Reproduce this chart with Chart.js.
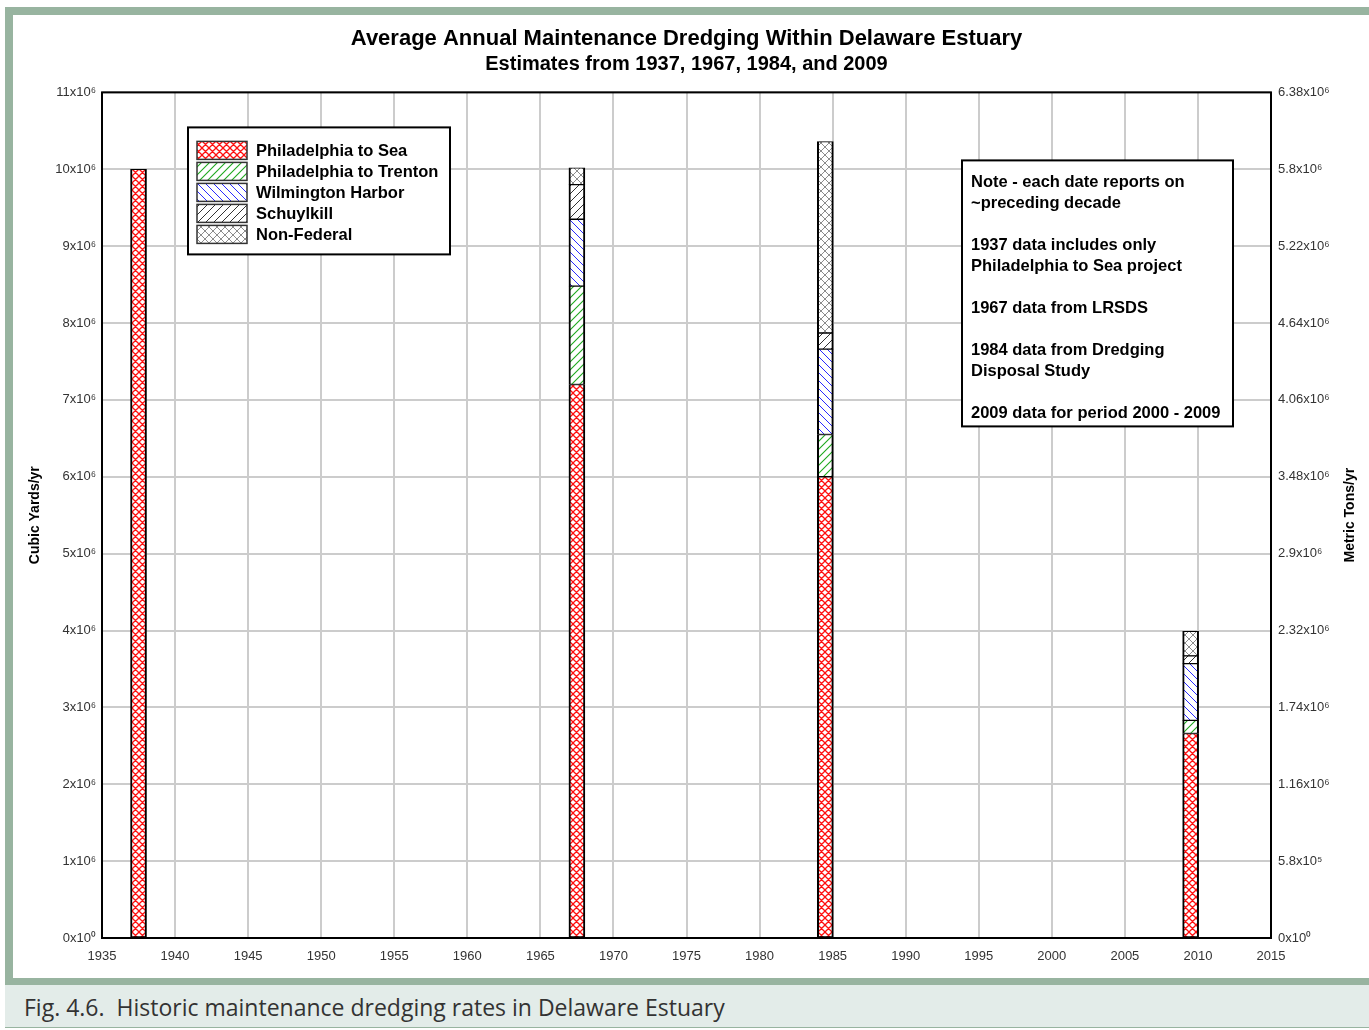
<!DOCTYPE html>
<html>
<head>
<meta charset="utf-8">
<title>Average Annual Maintenance Dredging Within Delaware Estuary</title>
<script src="https://cdn.jsdelivr.net/npm/chart.js@4.4.1/dist/chart.umd.min.js"></script>
<style>
  html, body { margin: 0; padding: 0; background: #ffffff; }
  body { width: 1369px; height: 1030px; position: relative; overflow: hidden; }
  .band { position: absolute; background: #98b4a0; }
  #wrap { position: absolute; left: 13px; top: 15px; width: 1356px; height: 963px; background: #fff; }
  #caption {
    position: absolute; left: 5px; top: 985px; width: 1364px; height: 43px;
    background: #e3ece9; border-bottom: 1px solid #98b4a0; box-sizing: border-box;
    font-family: "Open Sans", "Noto Sans", sans-serif; font-size: 23px; color: #333;
    padding-left: 19px; line-height: 45px;
  }
</style>
</head>
<body>
<div class="band" style="left:5px;top:7px;width:1364px;height:8px"></div>
<div class="band" style="left:5px;top:7px;width:8px;height:978px"></div>
<div class="band" style="left:5px;top:978px;width:1364px;height:7px"></div>
<div id="wrap"><canvas id="chart" width="1356" height="963"></canvas></div>
<div id="caption">Fig. 4.6.&nbsp; Historic maintenance dredging rates in Delaware Estuary</div>

<script>
// Survey years (each value reports on roughly the preceding decade)
const reportYears = [1937, 1967, 1984, 2009];

// Average annual maintenance dredging, millions of cubic yards per year
const phillyToSea      = [10.0, 7.20, 6.00, 2.66];
const phillyToTrenton  = [null, 1.28, 0.55, 0.17];
const wilmingtonHarbor = [null, 0.87, 1.11, 0.74];
const schuylkill       = [null, 0.45, 0.21, 0.10];
const nonFederal       = [null, 0.22, 2.49, 0.32];

const seriesNames = ['Philadelphia to Sea', 'Philadelphia to Trenton', 'Wilmington Harbor', 'Schuylkill', 'Non-Federal'];

// Axis tick labels
const yearTicks = [1935, 1940, 1945, 1950, 1955, 1960, 1965, 1970, 1975, 1980, 1985, 1990, 1995, 2000, 2005, 2010, 2015];
const cubicYardLabels = ['0x10\u2070', '1x10\u2076', '2x10\u2076', '3x10\u2076', '4x10\u2076', '5x10\u2076',
                         '6x10\u2076', '7x10\u2076', '8x10\u2076', '9x10\u2076', '10x10\u2076', '11x10\u2076'];
const metricTonLabels = ['0x10\u2070', '5.8x10\u2075', '1.16x10\u2076', '1.74x10\u2076', '2.32x10\u2076', '2.9x10\u2076',
                         '3.48x10\u2076', '4.06x10\u2076', '4.64x10\u2076', '5.22x10\u2076', '5.8x10\u2076', '6.38x10\u2076'];

const noteLines = [
  'Note - each date reports on', '~preceding decade', '',
  '1937 data includes only', 'Philadelphia to Sea project', '',
  '1967 data from LRSDS', '',
  '1984 data from Dredging', 'Disposal Study', '',
  '2009 data for period 2000 - 2009'
];

// ---- hatch fills ----
function hatch(color, kind, size, width) {
  const c = document.createElement('canvas');
  c.width = c.height = size;
  const g = c.getContext('2d');
  g.fillStyle = '#ffffff';
  g.fillRect(0, 0, size, size);
  g.strokeStyle = color;
  g.lineWidth = width;
  g.beginPath();
  if (kind === 'fwd' || kind === 'cross') {
    g.moveTo(0, size); g.lineTo(size, 0);
    g.moveTo(-1, 1); g.lineTo(1, -1);
    g.moveTo(size - 1, size + 1); g.lineTo(size + 1, size - 1);
  }
  if (kind === 'back' || kind === 'cross') {
    g.moveTo(0, 0); g.lineTo(size, size);
    g.moveTo(-1, size - 1); g.lineTo(1, size + 1);
    g.moveTo(size - 1, -1); g.lineTo(size + 1, 1);
  }
  g.stroke();
  return g.createPattern(c, 'repeat');
}

const fills = [
  hatch('#ff1010', 'cross', 7, 1.3),
  hatch('#1ea81e', 'fwd', 8, 1.1),
  hatch('#2a2aff', 'back', 8, 1),
  hatch('#333333', 'fwd', 8, 1),
  hatch('#8c8c8c', 'cross', 8, 1)
];

const seriesValues = [phillyToSea, phillyToTrenton, wilmingtonHarbor, schuylkill, nonFederal];

const datasets = seriesValues.map((vals, i) => ({
  label: seriesNames[i],
  data: reportYears.map((yr, j) => ({ x: yr + 0.5, y: vals[j] })),
  backgroundColor: fills[i],
  hoverBackgroundColor: fills[i],
  borderColor: '#000000',
  borderWidth: { left: 2, right: 2, top: 1, bottom: 1 },
  borderSkipped: false,
  barThickness: 16,
  yAxisID: 'y'
}));

const FONT = '"Liberation Sans", Arial, sans-serif';

// Black frame around the plotting area
const frame = {
  id: 'frame',
  afterDatasetsDraw(chart) {
    const { ctx, chartArea: a } = chart;
    ctx.save();
    ctx.strokeStyle = '#000';
    ctx.lineWidth = 2;
    ctx.strokeRect(a.left, a.top, a.right - a.left, a.bottom - a.top);
    ctx.restore();
  }
};

// Boxed legend with hatch swatches
const boxedLegend = {
  id: 'boxedLegend',
  afterDraw(chart) {
    const { ctx, chartArea: a } = chart;
    const x0 = a.left + 86, y0 = a.top + 35, w = 262, h = 127;
    ctx.save();
    ctx.fillStyle = '#fff';
    ctx.fillRect(x0, y0, w, h);
    ctx.strokeStyle = '#000';
    ctx.lineWidth = 2;
    ctx.strokeRect(x0, y0, w, h);
    ctx.font = 'bold 16.5px ' + FONT;
    ctx.textBaseline = 'middle';
    chart.data.datasets.forEach((ds, i) => {
      const cy = y0 + 23 + i * 21;
      ctx.fillStyle = ds.backgroundColor;
      ctx.fillRect(x0 + 9, cy - 9, 50, 18);
      ctx.strokeStyle = '#333';
      ctx.lineWidth = 1.5;
      ctx.strokeRect(x0 + 9, cy - 9, 50, 18);
      ctx.fillStyle = '#000';
      ctx.fillText(ds.label, x0 + 68, cy + 1);
    });
    ctx.restore();
  }
};

// Boxed note panel
const notePanel = {
  id: 'notePanel',
  afterDraw(chart) {
    const { ctx, chartArea: a } = chart;
    const x0 = a.left + 860, y0 = a.top + 68, w = 271, h = 266;
    ctx.save();
    ctx.fillStyle = '#fff';
    ctx.fillRect(x0, y0, w, h);
    ctx.strokeStyle = '#000';
    ctx.lineWidth = 2;
    ctx.strokeRect(x0, y0, w, h);
    ctx.font = 'bold 16.5px ' + FONT;
    ctx.fillStyle = '#000';
    ctx.textBaseline = 'middle';
    noteLines.forEach((t, i) => {
      if (t) ctx.fillText(t, x0 + 9, y0 + 22 + i * 21);
    });
    ctx.restore();
  }
};

// Right-hand axis title, reading bottom to top
const rightTitle = {
  id: 'rightTitle',
  afterDraw(chart) {
    const { ctx, chartArea: a } = chart;
    ctx.save();
    ctx.translate(chart.width - 19, (a.top + a.bottom) / 2);
    ctx.rotate(-Math.PI / 2);
    ctx.font = 'bold 14px ' + FONT;
    ctx.fillStyle = '#000';
    ctx.textAlign = 'center';
    ctx.textBaseline = 'middle';
    ctx.fillText('Metric Tons/yr', 0, 0);
    ctx.restore();
  }
};

new Chart(document.getElementById('chart'), {
  type: 'bar',
  data: { datasets },
  plugins: [frame, boxedLegend, notePanel, rightTitle],
  options: {
    responsive: false,
    animation: false,
    devicePixelRatio: 1,
    events: [],
    layout: { padding: { left: 0, right: 0, top: 0, bottom: 0 } },
    plugins: {
      legend: { display: false },
      tooltip: { enabled: false },
      title: {
        display: true,
        fullSize: false,
        text: 'Average Annual Maintenance Dredging Within Delaware Estuary',
        color: '#000',
        font: { family: FONT, size: 22, weight: 'bold' },
        padding: { top: 11, bottom: 0 }
      },
      subtitle: {
        display: true,
        fullSize: false,
        text: 'Estimates from 1937, 1967, 1984, and 2009',
        color: '#000',
        font: { family: FONT, size: 20, weight: 'bold' },
        padding: { top: 0, bottom: 16 }
      }
    },
    scales: {
      x: {
        type: 'linear',
        stacked: true,
        offset: false,
        min: 1935,
        max: 2015,
        afterBuildTicks(scale) { scale.ticks = yearTicks.map(v => ({ value: v })); },
        afterFit(scale) { scale.height = 40; },
        ticks: {
          padding: 11,
          color: '#333',
          font: { family: FONT, size: 13 },
          maxRotation: 0,
          autoSkip: false,
          callback: v => String(v)
        },
        grid: { color: '#cccccc', lineWidth: 2, drawTicks: false, offset: false },
        border: { display: false }
      },
      y: {
        type: 'linear',
        position: 'left',
        stacked: true,
        min: 0,
        max: 11,
        afterBuildTicks(scale) { scale.ticks = cubicYardLabels.map((_, i) => ({ value: i })); },
        afterFit(scale) { scale.width = 89; },
        ticks: {
          padding: 6,
          color: '#333',
          font: { family: FONT, size: 13 },
          autoSkip: false,
          callback: v => cubicYardLabels[v]
        },
        grid: { color: '#cccccc', lineWidth: 2, drawTicks: false },
        border: { display: false },
        title: {
          display: true,
          text: 'Cubic Yards/yr',
          color: '#000',
          font: { family: FONT, size: 14, weight: 'bold' },
          padding: { top: 14, bottom: 0 }
        }
      },
      y2: {
        type: 'linear',
        position: 'right',
        min: 0,
        max: 11,
        afterBuildTicks(scale) { scale.ticks = metricTonLabels.map((_, i) => ({ value: i })); },
        afterFit(scale) { scale.width = 98; },
        ticks: {
          padding: 7,
          color: '#333',
          font: { family: FONT, size: 13 },
          autoSkip: false,
          callback: v => metricTonLabels[v]
        },
        grid: { display: false, drawTicks: false },
        border: { display: false }
      }
    }
  }
});
</script>
</body>
</html>
